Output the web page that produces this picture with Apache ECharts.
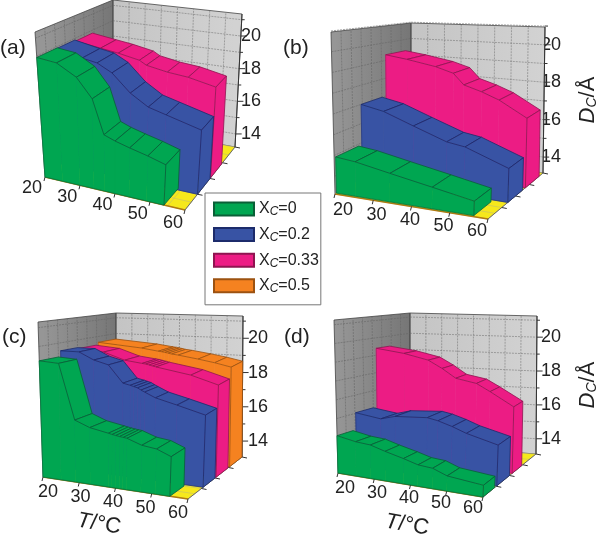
<!DOCTYPE html>
<html><head><meta charset="utf-8">
<style>html,body{margin:0;padding:0;background:#fff}#c{width:600px;height:535px}</style>
<script src="https://cdn.jsdelivr.net/npm/echarts@6/dist/echarts.min.js"></script>
</head><body><div id="c"></div>
<script>
// ---- tick labels
const tTicks=[20,30,40,50,60];
const dTicks=[14,16,18,20];
const legendNames=['X_C=0','X_C=0.2','X_C=0.33','X_C=0.5'];
// ---- values (T in °C, D_C in Å), panel a
const aGreenT=[20,25,30,34,37,40,44,49,54];
const aGreenD=[19.92,19.8,19.19,18.15,16.29,16.07,15.86,15.63,15.36];
const aBlueT=[20,27,31,35,40,45,50,60];
const aBlueD=[19.9,19.61,19.47,19.04,18.07,17.46,17.21,16.73];
const aPinkT=[20,27,32,38,40,46,52,60];
const aPinkD=[19.82,19.61,19.47,19.24,19.01,18.8,18.69,18.38];
// panel b
const bGreenT=[20,25,34,45,56];
const bGreenD=[14.9,14.8,14.49,14.14,13.8];
const bBlueT=[20,26,34,43,48,60];
const bBlueD=[17.0,16.77,16.21,15.63,15.5,14.76];
const bPinkT=[20,26,34,39,42,47,52,60];
const bPinkD=[19.32,19.15,18.87,18.59,18.02,17.75,17.41,16.64];
// panel c
const cGreenT=[20,25,29,33,38,39,40,41,42,43,47,51,55];
const cGreenD=[19.24,19.2,16.31,16.01,15.84,15.8,15.77,15.74,15.72,15.7,15.44,15.35,15.06];
const cBlueT=[20,25,29,33,37,39,40,41,42,43,46,52,60];
const cBlueD=[19.56,19.58,19.2,19.0,18.08,18.0,17.95,17.9,17.8,17.71,17.46,17.19,16.82];
const cPinkT=[20,27,33,38,39,40,41,42,52,60];
const cPinkD=[19.5,19.39,19.01,18.9,18.88,18.84,18.8,18.76,18.46,18.04];
const cOrangeT=[20,33,38,39,40,41,42,44,50,55,60];
const cOrangeD=[19.65,19.45,19.32,19.3,19.27,19.24,19.2,19.16,19.0,18.85,18.66];
// panel d
const dGreenT=[20,25,29,33,38,42,46,50,60];
const dGreenD=[15.09,14.91,14.85,14.63,14.4,14.19,14.13,13.86,13.68];
const dBlueT=[20,27,31,40,43,47,51,60];
const dBlueD=[16.03,15.85,16.07,16.2,16.1,15.88,15.61,15.2];
const dPinkT=[20,28,35,39,43,49,53,60];
const dPinkD=[19.4,19.21,18.92,18.51,18.02,17.82,17.43,16.71];
// ---- styles
const COL={g:['#00a651','#0a5f37'],b:['#3853a4','#1c2b6b'],p:['#ec1c84','#8f1450'],o:['#f58220','#9c5210']};
// ---- panel frames (screen positions of the box corners)
const panels=[
 {key:'(a)',lx:0,ly:51,ymin:13.2,ymax:21.35,A:[45,177],B:[185,210],C:[235,147],D:[113,125],A1:[35,32],B1:[195,57],C1:[242,14],D1:[113,0],off0:[-13,11],off1:[-12,13],
  rib:[[aPinkT,aPinkD,'p',.51,.73,2],[aBlueT,aBlueD,'b',.25,.5,1],[aGreenT,aGreenD,'g',0,.27,0]]},
 {key:'(b)',lx:283,ly:51,ymin:13.15,ymax:20.95,A:[335,194],B:[488,219],C:[543,173],D:[411,150],A1:[331,32],B1:[495,44],C1:[545,27],D1:[411,23],off0:[8,16],off1:[-11,12],name:true,
  rib:[[bPinkT,bPinkD,'p',.68,.93,2],[bBlueT,bBlueD,'b',.36,.63,1],[bGreenT,bGreenD,'g',.02,.32,0]]},
 {key:'(c)',lx:2,ly:340,ymin:13.07,ymax:21.3,A:[43,477],B:[188,499],C:[242,457],D:[116,443],A1:[38,322],B1:[195,334],C1:[243,316],D1:[116,313],off0:[5,15],off1:[-10,14],
  rib:[[cOrangeT,cOrangeD,'o',.77,1,3],[cPinkT,cPinkD,'p',.52,.74,2],[cBlueT,cBlueD,'b',.28,.5,1],[cGreenT,cGreenD,'g',0,.25,0]]},
 {key:'(d)',lx:284,ly:340,ymin:13.1,ymax:21.25,A:[338,473],B:[483,497],C:[536,454],D:[410,445],A1:[334,320],B1:[490,332],C1:[537,316],D1:[410,313],off0:[7,15],off1:[-10,11],name:true,
  rib:[[dPinkT,dPinkD,'p',.55,.73,2],[dBlueT,dBlueD,'b',.26,.5,1],[dGreenT,dGreenD,'g',0,.22,0]]}
];
function lerp(a,b,t){return [a[0]+(b[0]-a[0])*t,a[1]+(b[1]-a[1])*t];}
function proj(P,u,d,h){
  const b=lerp(lerp(P.A,P.B,u),lerp(P.D,P.C,u),d);
  const t=lerp(lerp(P.A1,P.B1,u),lerp(P.D1,P.C1,u),d);
  return lerp(b,t,h);
}
function norm(api,params,T,D){
  const p=api.coord([T,D]),cs=params.coordSys;
  return [(p[0]-cs.x)/cs.width,1-(p[1]-cs.y)/cs.height];
}
function grad(x,y,x2,y2,c0,c1){return {type:'linear',x:x,y:y,x2:x2,y2:y2,global:true,colorStops:[{offset:0,color:c0},{offset:1,color:c1}]};}
function poly(pts,fill,stroke,w){return {type:'polygon',shape:{points:pts},style:{fill:fill,stroke:stroke||fill,lineWidth:w==null?0.6:w}};}
function line(a,b,c,w,dash){return {type:'line',shape:{x1:a[0],y1:a[1],x2:b[0],y2:b[1]},style:{stroke:c,lineWidth:w,lineDash:dash||null,fill:null}};}

const grids=[],xAxes=[],yAxes=[],series=[],graphics=[];
panels.forEach((P,pi)=>{
  grids.push({left:P.A[0],width:P.C[0]-P.A[0],top:P.C1[1],height:P.C[1]-P.C1[1]});
  xAxes.push({gridIndex:pi,type:'value',min:20,max:60,show:false});
  const y={gridIndex:pi,type:'value',position:'right',min:P.ymin,max:P.ymax,splitLine:{show:false},axisLine:{show:false},axisTick:{show:false},
    axisLabel:{customValues:dTicks,margin:6,fontFamily:'Liberation Sans',fontSize:18,color:'#222'}};
  if(P.name){Object.assign(y,{name:'{d|D}{s|C}{u|/Å}',nameLocation:'middle',nameRotate:90,nameGap:42,
     nameTextStyle:{rich:{d:{fontFamily:'Liberation Sans',fontStyle:'italic',fontSize:22,color:'#222'},u:{fontFamily:'Liberation Sans',fontSize:22,color:'#222'},s:{fontFamily:'Liberation Sans',fontStyle:'italic',fontSize:14,color:'#222',padding:[8,0,0,0]}}}});}
  yAxes.push(y);
  // frame
  series.push({type:'custom',coordinateSystem:'cartesian2d',xAxisIndex:pi,yAxisIndex:pi,silent:true,z:1,clip:false,
    data:[[20,P.ymin]],
    renderItem:(params,api)=>{
      const ch=[];
      ch.push(poly([P.A,P.D,P.D1,P.A1],grad(P.A[0],0,P.D[0],0,'#969696','#767676'),'#444',0.8));
      ch.push(poly([P.D,P.C,P.C1,P.D1],grad(P.D[0],0,P.C[0],0,'#c4c4c4','#d2d2d2'),'#444',0.8));
      ch.push(poly([P.A,P.B,P.C,P.D],'#f6e81c','#998',0.5));
      for(let i=1;i<8;i++){
        ch.push(line(proj(P,i/8,1,0),proj(P,i/8,1,1),'#777',0.6,[2,1]));
        ch.push(line(proj(P,0,i/8,0),proj(P,0,i/8,1),'#666',0.6,[2,1]));
        ch.push(line(proj(P,0,i/8,0),proj(P,1,i/8,0),'#aa9',0.4));
        ch.push(line(proj(P,i/8,0,0),proj(P,i/8,1,0),'#aa9',0.4));
      }
      for(let v=14;v<=21;v++){
        const h=norm(api,params,20,v)[1];
        ch.push(line(proj(P,0,1,h),proj(P,1,1,h),'#777',0.6,[2,1]));
        ch.push(line(proj(P,0,0,h),proj(P,0,1,h),'#666',0.6,[2,1]));
        const q=proj(P,1,1,h);
        ch.push(line(q,[q[0]+(v%2?3:6),q[1]],'#333',1));
      }
      ch.push(line(P.C,P.C1,'#333',1));
      ch.push(line(P.D,P.D1,'#555',0.8));
      ch.push(line(P.A,P.B,'#b07a10',1.6));
      ch.push(line(P.B,P.C,'#555',0.8));
      for(let k=1;k<=4;k++){const q=proj(P,1,k/4,0);ch.push(line(q,[q[0]+5,q[1]+1],'#333',1));}
      tTicks.forEach((t,i)=>{
        const n=norm(api,params,t,P.ymin);
        const q=proj(P,n[0],0,0);
        ch.push(line(q,[q[0]-1,q[1]+4],'#333',1));
        const o=lerp(P.off0,P.off1,i/(tTicks.length-1));
        ch.push({type:'text',style:{text:String(t),x:q[0]+o[0],y:q[1]+o[1],align:'center',verticalAlign:'middle',font:'18px "Liberation Sans"',fill:'#222'}});
      });
      return {type:'group',children:ch};
    }});
  // ribbons, far to near
  P.rib.forEach(r=>{
    const Ts=r[0],Ds=r[1],col=COL[r[2]],df=r[3],db=r[4];
    const data=[];
    for(let i=0;i<Ts.length-1;i++)data.push([Ts[i],Ds[i],Ts[i+1],Ds[i+1],i===0?1:0,i===Ts.length-2?1:0]);
    series.push({type:'custom',name:legendNames[r[5]],coordinateSystem:'cartesian2d',xAxisIndex:pi,yAxisIndex:pi,silent:true,z:2,clip:false,
      itemStyle:{color:col[0],borderColor:col[1],borderWidth:0.5},
      encode:{x:[0,2],y:[1,3]},data:data,
      renderItem:(params,api)=>{
        const a=norm(api,params,api.value(0),api.value(1)),b=norm(api,params,api.value(2),api.value(3));
        const f0=proj(P,a[0],df,a[1]),f1=proj(P,b[0],df,b[1]),k0=proj(P,a[0],db,a[1]),k1=proj(P,b[0],db,b[1]);
        const g0=proj(P,a[0],df,0),g1=proj(P,b[0],df,0);
        const ch=[poly([g0,g1,f1,f0],col[0]),poly([f0,f1,k1,k0],col[0],col[1],0.8)];
        ch.push(line(g0,g1,col[1],0.6));
        if(api.value(4)){ch.push(line(g0,f0,col[1],0.5));}
        if(api.value(5)){
          const h1=proj(P,b[0],db,0);
          ch.push(poly([g1,h1,k1,f1],col[0],col[1],0.8));
        }
        return {type:'group',children:ch};
      }});
  });
  graphics.push({type:'text',left:P.lx,top:P.ly-13,style:{text:P.key,font:'21px "Liberation Sans"',fill:'#222'}});
});
[[99,524],[407,525]].forEach(p=>{
  graphics.push({type:'text',x:p[0],y:p[1],rotation:-10*Math.PI/180,style:{
    text:'{t|T}{u|/°C}',align:'center',verticalAlign:'middle',
    rich:{t:{font:'italic 22px "Liberation Sans"',fill:'#222'},u:{font:'22px "Liberation Sans"',fill:'#222'}}}});
});
const chart=echarts.init(document.getElementById('c'),null,{renderer:'canvas'});
chart.setOption({
  animation:false,backgroundColor:'#fff',
  grid:grids,xAxis:xAxes,yAxis:yAxes,series:series,graphic:graphics,
  legend:{show:true,orient:'vertical',left:205,top:193,padding:[8,2,10,8],itemWidth:40,itemHeight:13,itemGap:8.6,
    borderColor:'#777',borderWidth:1,backgroundColor:'#fff',selectedMode:false,z:10,
    data:legendNames.map(n=>({name:n,icon:'rect'})),
    formatter:n=>'{x|X}{s|C}{x|'+n.split('_C')[1]+'}',
    textStyle:{rich:{x:{fontFamily:'Liberation Sans',fontSize:16,color:'#222'},s:{fontFamily:'Liberation Sans',fontStyle:'italic',fontSize:12,color:'#222',padding:[6,0,0,0]}}}}
});
</script></body></html>
